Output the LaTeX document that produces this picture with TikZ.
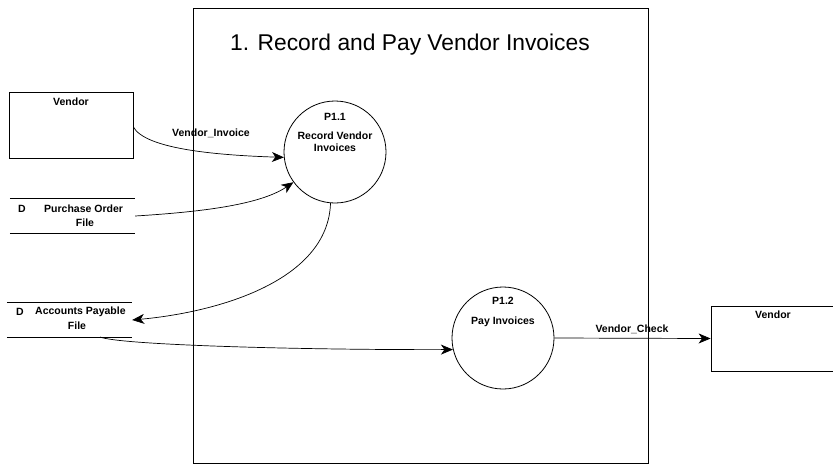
\documentclass[tikz,border=0pt]{standalone}
\usepackage{fontspec}
\setmainfont{Liberation Sans}
\usetikzlibrary{arrows.meta}
\begin{document}
\begin{tikzpicture}[x=1pt,y=-1pt,
  lbl/.style={font=\fontsize{10.5}{12}\selectfont\bfseries, inner sep=0pt},
  ttl/.style={font=\fontsize{22.8}{26}\selectfont, inner sep=0pt},
  proc/.style={circle, draw, line width=0.8pt, minimum size=102pt, inner sep=0pt},
  entity/.style={rectangle, draw, line width=0.8pt, inner sep=0pt},
  store/.style={rectangle, inner sep=0pt},
  flow/.style={line width=0.7pt, -{Stealth[length=12pt,width=10pt,inset=3.5pt]}}
]
\clip (0,0) rectangle (833,464);
\useasboundingbox (0,0) rectangle (833,464);
% boundary of process 1
\node[rectangle, draw, line width=0.8pt, minimum width=455pt, minimum height=455pt, inner sep=0pt] (sys) at (420.5,235.5) {};
\node[ttl] (title) at (410,45) {1. Record and Pay Vendor Invoices};
% external entities
\node[entity, minimum width=124pt, minimum height=66pt] (v1) at (71,125) {};
\node[lbl] (v1t) at (71,102) {Vendor};
\node[entity, minimum width=130pt, minimum height=65pt] (v2) at (776,338.5) {};
\node[lbl] (v2t) at (773,315) {Vendor};
% data stores
\node[store, minimum width=125pt, minimum height=34pt] (po) at (72.5,216) {};
\draw[line width=0.7pt] (po.north west) -- (po.north east) (po.south west) -- (po.south east);
\node[lbl] (pod) at (22,209) {D};
\node[lbl, anchor=west] (pot) at (44,209) {Purchase Order};
\node[lbl] (pof) at (85,223) {File};
\node[store, minimum width=125pt, minimum height=34pt] (ap) at (69.5,320) {};
\draw[line width=0.7pt] (ap.north west) -- (ap.north east) (ap.south west) -- (ap.south east);
\node[lbl] (apd) at (20,312) {D};
\node[lbl, anchor=west] (apt) at (35,312) {Accounts Payable};
\node[lbl] (apf) at (77,326) {File};
\coordinate (apout) at (100,337);
% processes
\node[proc] (p11) at (335,152) {};
\node[lbl] (p11a) at (335,117) {P1.1};
\node[lbl, align=center] (p11b) at (335,142) {Record Vendor\\[0pt]Invoices};
\node[proc] (p12) at (503,338) {};
\node[lbl] (p12a) at (503,301) {P1.2};
\node[lbl] (p12b) at (503,322) {Pay Invoices};
% flows
\draw[flow] (v1.east |- 0,127) .. controls (145,148) and (210,155) .. (p11.186);
\node[lbl] (fvi) at (211,133) {Vendor\_Invoice};
\draw[flow] (po.east) .. controls (200,212) and (260,205) .. (p11.216);
\draw[flow] (p11.265) .. controls (328,280) and (220,312) .. (ap.east);
\draw[flow] (apout) .. controls (120,345) and (300,350) .. (p12.193);
\draw[flow] (p12.east) -- (v2.west);
\node[lbl] (fvc) at (632,329) {Vendor\_Check};
\end{tikzpicture}
\end{document}
